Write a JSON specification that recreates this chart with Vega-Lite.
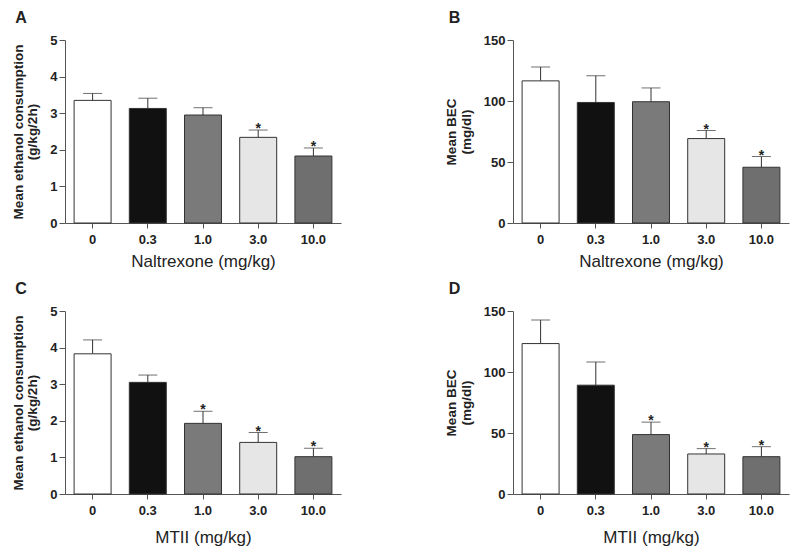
{
  "$schema": "https://vega.github.io/schema/vega-lite/v6.json",
  "background": "white",
  "padding": {"left": 11, "top": 10, "right": 8, "bottom": 4},
  "datasets": {
    "A": [
      {"dose": "0", "mean": 3.35, "err": 3.54, "sig": ""},
      {"dose": "0.3", "mean": 3.13, "err": 3.41, "sig": ""},
      {"dose": "1.0", "mean": 2.95, "err": 3.15, "sig": ""},
      {"dose": "3.0", "mean": 2.34, "err": 2.54, "sig": "*"},
      {"dose": "10.0", "mean": 1.83, "err": 2.05, "sig": "*"}
    ],
    "B": [
      {"dose": "0", "mean": 116.5, "err": 127.9, "sig": ""},
      {"dose": "0.3", "mean": 98.8, "err": 120.7, "sig": ""},
      {"dose": "1.0", "mean": 99.4, "err": 110.7, "sig": ""},
      {"dose": "3.0", "mean": 69.2, "err": 75.8, "sig": "*"},
      {"dose": "10.0", "mean": 45.7, "err": 54.5, "sig": "*"}
    ],
    "C": [
      {"dose": "0", "mean": 3.83, "err": 4.21, "sig": ""},
      {"dose": "0.3", "mean": 3.05, "err": 3.25, "sig": ""},
      {"dose": "1.0", "mean": 1.93, "err": 2.26, "sig": "*"},
      {"dose": "3.0", "mean": 1.41, "err": 1.68, "sig": "*"},
      {"dose": "10.0", "mean": 1.02, "err": 1.25, "sig": "*"}
    ],
    "D": [
      {"dose": "0", "mean": 123.3, "err": 142.6, "sig": ""},
      {"dose": "0.3", "mean": 89.2, "err": 108.2, "sig": ""},
      {"dose": "1.0", "mean": 48.7, "err": 58.9, "sig": "*"},
      {"dose": "3.0", "mean": 32.8, "err": 37.2, "sig": "*"},
      {"dose": "10.0", "mean": 30.6, "err": 38.8, "sig": "*"}
    ]
  },
  "vconcat": [
    {
      "spacing": 103,
      "hconcat": [
        {
          "title": "A",
          "width": 276, "height": 183,
          "data": {"name": "A"},
          "encoding": {
            "x": {"field": "dose", "type": "nominal", "sort": null, "scale": {"paddingInner": 0.33, "paddingOuter": 0.165}, "axis": {"title": "Naltrexone (mg/kg)"}},
            "y": {"field": "mean", "type": "quantitative", "scale": {"domain": [0, 5], "nice": false}, "axis": {"values": [0, 1, 2, 3, 4, 5], "title": ["Mean ethanol consumption", "(g/kg/2h)"]}}
          },
          "layer": [
            {"mark": {"type": "rule", "color": "#333", "strokeWidth": 1}, "encoding": {"y2": {"field": "err"}}},
            {"mark": {"type": "tick", "color": "#333", "size": 19, "thickness": 1}, "encoding": {"y": {"field": "err", "type": "quantitative", "title": ["Mean ethanol consumption", "(g/kg/2h)"]}}},
            {"mark": {"type": "bar", "stroke": "#333", "strokeWidth": 1}, "encoding": {"fill": {"field": "dose", "type": "nominal", "sort": null, "legend": null, "scale": {"domain": ["0", "0.3", "1.0", "3.0", "10.0"], "range": ["#ffffff", "#111111", "#7a7a7a", "#e6e6e6", "#6f6f6f"]}}}},
            {"mark": {"type": "text", "fontSize": 14, "fontWeight": "bold", "baseline": "alphabetic", "dy": 3, "color": "#222"}, "encoding": {"y": {"field": "err", "type": "quantitative", "title": ["Mean ethanol consumption", "(g/kg/2h)"]}, "text": {"field": "sig"}}}
          ]
        },
        {
          "title": "B",
          "width": 276, "height": 183,
          "data": {"name": "B"},
          "encoding": {
            "x": {"field": "dose", "type": "nominal", "sort": null, "scale": {"paddingInner": 0.33, "paddingOuter": 0.165}, "axis": {"title": "Naltrexone (mg/kg)"}},
            "y": {"field": "mean", "type": "quantitative", "scale": {"domain": [0, 150], "nice": false}, "axis": {"values": [0, 50, 100, 150], "title": ["Mean BEC", "(mg/dl)"]}}
          },
          "layer": [
            {"mark": {"type": "rule", "color": "#333", "strokeWidth": 1}, "encoding": {"y2": {"field": "err"}}},
            {"mark": {"type": "tick", "color": "#333", "size": 19, "thickness": 1}, "encoding": {"y": {"field": "err", "type": "quantitative", "title": ["Mean BEC", "(mg/dl)"]}}},
            {"mark": {"type": "bar", "stroke": "#333", "strokeWidth": 1}, "encoding": {"fill": {"field": "dose", "type": "nominal", "sort": null, "legend": null, "scale": {"domain": ["0", "0.3", "1.0", "3.0", "10.0"], "range": ["#ffffff", "#111111", "#7a7a7a", "#e6e6e6", "#6f6f6f"]}}}},
            {"mark": {"type": "text", "fontSize": 14, "fontWeight": "bold", "baseline": "alphabetic", "dy": 3, "color": "#222"}, "encoding": {"y": {"field": "err", "type": "quantitative", "title": ["Mean BEC", "(mg/dl)"]}, "text": {"field": "sig"}}}
          ]
        }
      ]
    },
    {
      "spacing": 103,
      "hconcat": [
        {
          "title": "C",
          "width": 276, "height": 183,
          "data": {"name": "C"},
          "encoding": {
            "x": {"field": "dose", "type": "nominal", "sort": null, "scale": {"paddingInner": 0.33, "paddingOuter": 0.165}, "axis": {"title": "MTII (mg/kg)", "titlePadding": 12}},
            "y": {"field": "mean", "type": "quantitative", "scale": {"domain": [0, 5], "nice": false}, "axis": {"values": [0, 1, 2, 3, 4, 5], "title": ["Mean ethanol consumption", "(g/kg/2h)"]}}
          },
          "layer": [
            {"mark": {"type": "rule", "color": "#333", "strokeWidth": 1}, "encoding": {"y2": {"field": "err"}}},
            {"mark": {"type": "tick", "color": "#333", "size": 19, "thickness": 1}, "encoding": {"y": {"field": "err", "type": "quantitative", "title": ["Mean ethanol consumption", "(g/kg/2h)"]}}},
            {"mark": {"type": "bar", "stroke": "#333", "strokeWidth": 1}, "encoding": {"fill": {"field": "dose", "type": "nominal", "sort": null, "legend": null, "scale": {"domain": ["0", "0.3", "1.0", "3.0", "10.0"], "range": ["#ffffff", "#111111", "#7a7a7a", "#e6e6e6", "#6f6f6f"]}}}},
            {"mark": {"type": "text", "fontSize": 14, "fontWeight": "bold", "baseline": "alphabetic", "dy": 3, "color": "#222"}, "encoding": {"y": {"field": "err", "type": "quantitative", "title": ["Mean ethanol consumption", "(g/kg/2h)"]}, "text": {"field": "sig"}}}
          ]
        },
        {
          "title": "D",
          "width": 276, "height": 183,
          "data": {"name": "D"},
          "encoding": {
            "x": {"field": "dose", "type": "nominal", "sort": null, "scale": {"paddingInner": 0.33, "paddingOuter": 0.165}, "axis": {"title": "MTII (mg/kg)", "titlePadding": 12}},
            "y": {"field": "mean", "type": "quantitative", "scale": {"domain": [0, 150], "nice": false}, "axis": {"values": [0, 50, 100, 150], "title": ["Mean BEC", "(mg/dl)"]}}
          },
          "layer": [
            {"mark": {"type": "rule", "color": "#333", "strokeWidth": 1}, "encoding": {"y2": {"field": "err"}}},
            {"mark": {"type": "tick", "color": "#333", "size": 19, "thickness": 1}, "encoding": {"y": {"field": "err", "type": "quantitative", "title": ["Mean BEC", "(mg/dl)"]}}},
            {"mark": {"type": "bar", "stroke": "#333", "strokeWidth": 1}, "encoding": {"fill": {"field": "dose", "type": "nominal", "sort": null, "legend": null, "scale": {"domain": ["0", "0.3", "1.0", "3.0", "10.0"], "range": ["#ffffff", "#111111", "#7a7a7a", "#e6e6e6", "#6f6f6f"]}}}},
            {"mark": {"type": "text", "fontSize": 14, "fontWeight": "bold", "baseline": "alphabetic", "dy": 3, "color": "#222"}, "encoding": {"y": {"field": "err", "type": "quantitative", "title": ["Mean BEC", "(mg/dl)"]}, "text": {"field": "sig"}}}
          ]
        }
      ]
    }
  ],
  "spacing": 12,
  "config": {
    "font": "Liberation Sans",
    "view": {"stroke": null},
    "axis": {"grid": false, "domainColor": "#555", "tickColor": "#555", "labelColor": "#222", "titleColor": "#222", "labelFontWeight": "bold", "labelFontSize": 13},
    "axisY": {"titleFontSize": 13.5, "titleFontWeight": "bold", "titleLineHeight": 14.5, "tickSize": 6, "labelPadding": 2, "titlePadding": 10},
    "axisX": {"titleFontSize": 17, "titleFontWeight": "normal", "tickSize": 5, "labelPadding": 5, "titlePadding": 7, "labelAngle": 0},
    "title": {"anchor": "start", "frame": "bounds", "fontSize": 16, "fontWeight": "bold", "offset": 8, "dx": 4, "color": "#222"}
  }
}
